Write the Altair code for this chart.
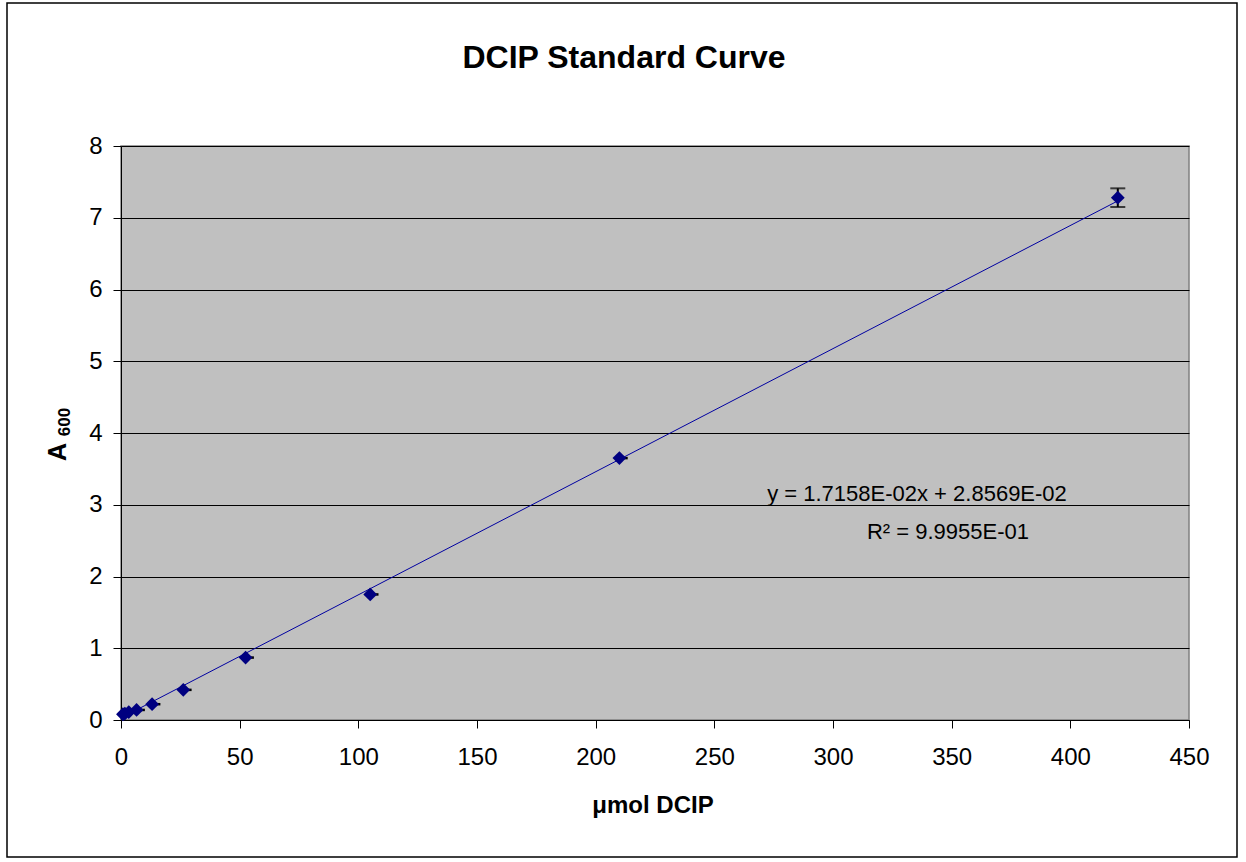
import altair as alt
import pandas as pd

# ---- data ----
conc = [0.82, 1.64, 3.28, 6.56, 13.1, 26.25, 52.5, 105, 210, 420]
a600 = [0.08, 0.09, 0.11, 0.14, 0.22, 0.42, 0.87, 1.75, 3.65, 7.28]
y_err = [0.01, 0.01, 0.01, 0.01, 0.01, 0.01, 0.01, 0.01, 0.01, 0.13]
x_err = [0, 0, 3.5, 3.5, 3.5, 3.5, 3.5, 3.5, 3.5, 0]

slope = 1.7158e-02
intercept = 2.8569e-02
trend_x = [0, 420]

x_ticks = [0, 50, 100, 150, 200, 250, 300, 350, 400, 450]
y_ticks = [0, 1, 2, 3, 4, 5, 6, 7, 8]

title_text = "DCIP Standard Curve"
x_title = "\u03bcmol DCIP"
eq_line1 = "y = 1.7158E-02x + 2.8569E-02"
eq_line2 = "R\u00b2 = 9.9955E-01"

FONT = "Liberation Sans"
W, H = 1068, 574

df = pd.DataFrame({"conc": conc, "a600": a600, "yerr": y_err, "xerr": x_err})
df["ylo"] = df["a600"] - df["yerr"]
df["yhi"] = df["a600"] + df["yerr"]
df["xhi"] = df["conc"] + df["xerr"]
trend = pd.DataFrame({"x": trend_x})
trend["y"] = slope * trend["x"] + intercept

xs = alt.Scale(domain=[0, 450], nice=False, zero=False)
ys = alt.Scale(domain=[0, 8], nice=False)

base = alt.Chart(df)

x_axis = alt.Axis(values=x_ticks, title=None, grid=False, labelFontSize=24,
                  labelPadding=17, tickSize=8, labelFlush=False, format="d")
y_axis = alt.Axis(values=y_ticks, title=None, grid=True, gridColor="black",
                  gridOpacity=1, gridWidth=1, labelFontSize=24, labelPadding=11,
                  tickSize=8, format="d", labelFlush=False)

frame = alt.Chart(pd.DataFrame({"a": [0]})).mark_rect(
    fill="white", fillOpacity=0, stroke="black", strokeWidth=1.5
).encode(x=alt.value(-114), x2=alt.value(1116), y=alt.value(-143), y2=alt.value(711))

yerr_rule = base.mark_rule(color="black", strokeWidth=2).encode(
    x=alt.X("conc:Q", scale=xs, axis=x_axis),
    y=alt.Y("ylo:Q", scale=ys, axis=y_axis),
    y2="yhi:Q",
)
caps_hi = base.mark_tick(color="black", orient="horizontal", size=15, thickness=2).encode(
    x=alt.X("conc:Q", scale=xs), y=alt.Y("yhi:Q", scale=ys)
).transform_filter("datum.yerr > 0.05")
caps_lo = base.mark_tick(color="black", orient="horizontal", size=15, thickness=2).encode(
    x=alt.X("conc:Q", scale=xs), y=alt.Y("ylo:Q", scale=ys)
).transform_filter("datum.yerr > 0.05")
xerr_rule = base.mark_rule(color="black", strokeWidth=2.5).encode(
    x=alt.X("conc:Q", scale=xs), x2="xhi:Q", y=alt.Y("a600:Q", scale=ys)
)

line = alt.Chart(trend).mark_line(color="#0000A0", strokeWidth=1).encode(
    x=alt.X("x:Q", scale=xs), y=alt.Y("y:Q", scale=ys)
)

points = base.mark_point(shape="diamond", filled=True, color="#000080", size=190, opacity=1).encode(
    x=alt.X("conc:Q", scale=xs), y=alt.Y("a600:Q", scale=ys)
)

def label(txt, x, y, size, bold=False, angle=0, align="center"):
    return alt.Chart(pd.DataFrame({"t": [txt]})).mark_text(
        font=FONT, fontSize=size, fontWeight="bold" if bold else "normal",
        color="black", angle=angle, align=align, baseline="middle"
    ).encode(text="t:N", x=alt.value(x), y=alt.value(y))

title = label(title_text, 503, -88, 32, bold=True)
xtitle = label(x_title, 532, 660, 24, bold=True)
ytitle_a = label("A", -63, 306, 25, bold=True, angle=270)
ytitle_sub = label("600", -56, 276, 17, bold=True, angle=270)
eq1 = label(eq_line1, 796, 348, 22)
eq2 = label(eq_line2, 827, 386, 22)

chart = alt.layer(
    frame, line, yerr_rule, caps_hi, caps_lo, xerr_rule, points,
    title, xtitle, ytitle_a, ytitle_sub, eq1, eq2
).properties(
    width=W, height=H,
    autosize=alt.AutoSizeParams(type="none"),
    padding={"left": 121, "top": 146, "right": 57, "bottom": 142},
    background="white",
).configure_view(
    fill="#C0C0C0", stroke="#808080", strokeWidth=1.5
).configure_axis(
    labelFont=FONT, labelColor="black", tickColor="black", domainColor="black",
    domainWidth=1, tickWidth=1
)

chart.save("out.html", embed_options={"renderer": "svg", "actions": False})
